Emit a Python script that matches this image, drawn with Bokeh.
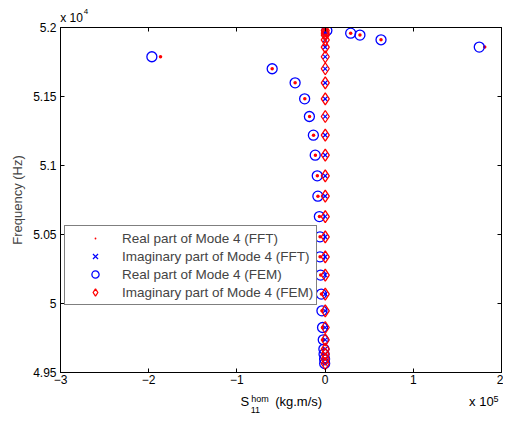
from bokeh.plotting import figure
from bokeh.models import (FixedTicker, LinearAxis, Legend, LegendItem, ColumnDataSource)
from bokeh.embed import file_html
from bokeh.resources import INLINE

# ---- data ----
freq_hz = [51978, 51959, 51945, 51911, 51858, 51788, 51701, 51599, 51483, 51355,
           51220, 51075, 50925, 50778, 50630, 50483, 50338, 50206, 50068, 49947,
           49826, 49737, 49670, 49633, 49597, 49565]
# real part FEM (x 1e5)
real_fem = [0.02, 0.29, 0.395, 0.634, 1.748, -1.964, -0.60, -0.34, -0.232, -0.178,
            -0.133, -0.112, -0.089, -0.082, -0.065, -0.058, -0.058, -0.051, -0.043, -0.036,
            -0.029, -0.021, -0.014, -0.012, -0.006, -0.005]
# real part FFT (x 1e5)
real_fft = [0.02, 0.29, 0.395, 0.634, 1.81, -1.866, -0.60, -0.34, -0.230, -0.176,
            -0.131, -0.110, -0.088, -0.081, -0.064, -0.057, -0.057, -0.050, -0.042, -0.035,
            -0.028, -0.020, -0.013, -0.011, -0.005, -0.004]
# imaginary parts (x 1e5)
imag_fft = [0.001] * len(freq_hz)
imag_fem = [0.002] * len(freq_hz)

x_ticks = [-300000, -200000, -100000, 0, 100000, 200000]
x_tick_labels = ["\u22123", "\u22122", "\u22121", "0", "1", "2"]
y_ticks = [49500, 50000, 50500, 51000, 51500, 52000]
y_tick_labels = ["4.95", "5", "5.05", "5.1", "5.15", "5.2"]

# axis-title pieces: (x position along the x axis, text)
xlabel_sup = [(-73900, "hom"), (193700, "5")]
xlabel_main = [(-91000, "S"), (-30000, "(kg.m/s)"), (177200, "x 10")]
xlabel_sub = [(-79000, "11")]
top_main = [(-287500, "x 10")]
top_sup = [(-271000, "4")]

SCALE = 1e5
FONT = "Liberation Sans"

src = ColumnDataSource(dict(
    f=freq_hz,
    rfem=[v * SCALE for v in real_fem],
    rfft=[v * SCALE for v in real_fft],
    ifft=[v * SCALE for v in imag_fft],
    ifem=[v * SCALE for v in imag_fem],
))

p = figure(frame_width=441, frame_height=345, x_range=(-3e5, 2e5), y_range=(49500, 52000),
           output_backend="svg", toolbar_location=None,
           min_border_left=60, min_border_top=27, min_border_right=2, min_border_bottom=44)
p.xgrid.visible = False
p.ygrid.visible = False
p.outline_line_color = "black"
p.outline_line_width = 1
p.background_fill_color = "white"
p.border_fill_color = "white"

r1 = p.scatter("rfft", "f", source=src, marker="dot", size=14, fill_color="red", line_color="red")
r2 = p.scatter("ifft", "f", source=src, marker="x", size=6, line_color="blue", line_width=1.2)
r3 = p.scatter("rfem", "f", source=src, marker="circle", size=10, fill_color=None, line_color="blue", line_width=1.3)
r4 = p.scatter("ifem", "f", source=src, marker="diamond", size=12, fill_color=None, line_color="red", line_width=1.3)

for ax in (p.xaxis[0], p.yaxis[0]):
    ax.major_tick_in = 4
    ax.major_tick_out = 0
    ax.minor_tick_in = 0
    ax.minor_tick_out = 0
    ax.axis_line_color = "black"
    ax.major_tick_line_color = "black"
    ax.major_label_text_font = FONT
    ax.major_label_text_font_size = "12px"
    ax.major_label_text_color = "black"

p.xaxis[0].ticker = FixedTicker(ticks=x_ticks)
p.xaxis[0].major_label_overrides = dict(zip(x_ticks, x_tick_labels))
p.xaxis[0].major_label_standoff = 2

p.yaxis[0].ticker = FixedTicker(ticks=y_ticks)
p.yaxis[0].major_label_overrides = dict(zip(y_ticks, y_tick_labels))
p.yaxis[0].major_label_standoff = 4
p.yaxis[0].axis_label = "Frequency (Hz)"
p.yaxis[0].axis_label_text_font = FONT
p.yaxis[0].axis_label_text_font_size = "13px"
p.yaxis[0].axis_label_text_font_style = "normal"
p.yaxis[0].axis_label_standoff = 5

# box ticks on top and right (no labels)
for loc, ticks in (("above", x_ticks), ("right", y_ticks)):
    ax = LinearAxis(ticker=FixedTicker(ticks=ticks), major_tick_in=4, major_tick_out=0,
                    minor_tick_in=0, minor_tick_out=0,
                    major_label_overrides={t: "" for t in ticks},
                    major_label_text_alpha=0, major_label_text_font_size="1px",
                    major_label_standoff=0,
                    axis_line_color="black", major_tick_line_color="black")
    p.add_layout(ax, loc)


def text_row(items, loc, size, standoff):
    pos = [x for x, _ in items]
    ax = LinearAxis(ticker=FixedTicker(ticks=pos),
                    major_label_overrides={x: t for x, t in items},
                    major_tick_line_color=None, minor_tick_line_color=None,
                    axis_line_color=None, major_tick_in=0, major_tick_out=0,
                    minor_tick_in=0, minor_tick_out=0,
                    major_label_standoff=standoff,
                    major_label_text_font=FONT, major_label_text_font_size=size,
                    major_label_text_color="black")
    p.add_layout(ax, loc)


# x-axis title  S^hom_11 (kg.m/s)  and multiplier  x 10^5
text_row(xlabel_sup, "below", "9px", 7)
text_row(xlabel_main, "below", "13px", -13)
text_row(xlabel_sub, "below", "9px", -5)
# y multiplier  x 10^4
text_row(top_main, "above", "12px", 3)
text_row(top_sup, "above", "8px", -6)

# legend
legend = Legend(items=[
    LegendItem(label="Real part of Mode 4 (FFT)", renderers=[r1]),
    LegendItem(label="Imaginary part of Mode 4 (FFT)", renderers=[r2]),
    LegendItem(label="Real part of Mode 4 (FEM)", renderers=[r3]),
    LegendItem(label="Imaginary part of Mode 4 (FEM)", renderers=[r4]),
], location=(4, 67), orientation="vertical",
    label_text_font=FONT, label_text_font_size="13.5px",
    glyph_width=54, glyph_height=18, label_height=18, label_standoff=0,
    spacing=0, padding=3, margin=0,
    border_line_color="black", border_line_width=1, background_fill_alpha=1.0)
p.add_layout(legend, "center")

open("out.html", "w").write(file_html(p, INLINE))
